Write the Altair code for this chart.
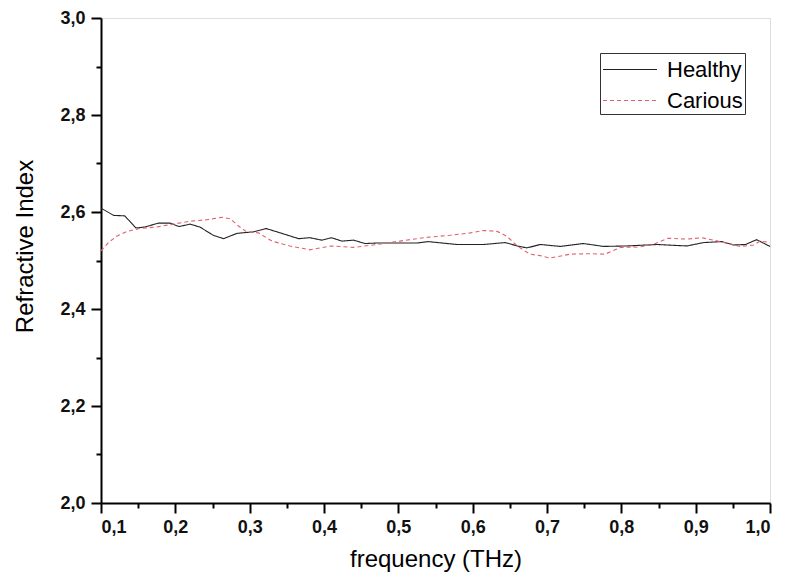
import altair as alt
import pandas as pd

healthy_f = [0.100, 0.117, 0.132, 0.147, 0.159, 0.177, 0.193, 0.205, 0.220, 0.233, 0.251, 0.265,
             0.283, 0.305, 0.322, 0.341, 0.366, 0.381, 0.397, 0.410, 0.424, 0.440, 0.455, 0.471,
             0.525, 0.540, 0.579, 0.615, 0.644, 0.660, 0.673, 0.691, 0.718, 0.749, 0.776, 0.808,
             0.848, 0.888, 0.911, 0.935, 0.951, 0.967, 0.982, 1.000]
healthy_n = [2.608, 2.593, 2.592, 2.567, 2.569, 2.577, 2.577, 2.570, 2.575, 2.569, 2.552, 2.545,
             2.556, 2.559, 2.566, 2.557, 2.545, 2.547, 2.542, 2.547, 2.540, 2.542, 2.535, 2.536,
             2.536, 2.539, 2.533, 2.533, 2.537, 2.530, 2.526, 2.533, 2.529, 2.535, 2.529, 2.530,
             2.533, 2.530, 2.537, 2.539, 2.532, 2.533, 2.543, 2.529]

carious_f = [0.100, 0.110, 0.121, 0.135, 0.152, 0.175, 0.197, 0.220, 0.242, 0.262, 0.274, 0.285,
             0.296, 0.312, 0.330, 0.354, 0.381, 0.410, 0.440, 0.471, 0.502, 0.534, 0.570, 0.597,
             0.615, 0.633, 0.646, 0.660, 0.677, 0.691, 0.704, 0.731, 0.758, 0.778, 0.799, 0.825,
             0.843, 0.863, 0.888, 0.908, 0.933, 0.960, 0.978, 0.987, 1.000]
carious_n = [2.520, 2.537, 2.550, 2.560, 2.566, 2.569, 2.575, 2.581, 2.584, 2.589, 2.586, 2.571,
             2.559, 2.557, 2.540, 2.530, 2.522, 2.530, 2.527, 2.533, 2.540, 2.547, 2.552, 2.557,
             2.562, 2.560, 2.550, 2.530, 2.513, 2.510, 2.505, 2.513, 2.514, 2.513, 2.527, 2.528,
             2.533, 2.546, 2.544, 2.547, 2.539, 2.529, 2.532, 2.540, 2.537]

series_names = ["Healthy", "Carious"]
x_major = [0.1, 0.2, 0.3, 0.4, 0.5, 0.6, 0.7, 0.8, 0.9, 1.0]
x_minor = [0.15, 0.25, 0.35, 0.45, 0.55, 0.65, 0.75, 0.85, 0.95]
y_major = [2.0, 2.2, 2.4, 2.6, 2.8, 3.0]
y_minor = [2.1, 2.3, 2.5, 2.7, 2.9]

df = pd.concat([
    pd.DataFrame({"f": healthy_f, "n": healthy_n, "s": "Healthy"}),
    pd.DataFrame({"f": carious_f, "n": carious_n, "s": "Carious"}),
], ignore_index=True)

FONT = "Liberation Sans"
fmt = "replace(format(datum.value, '.1f'), '.', ',')"

xscale = alt.Scale(domain=[0.1, 1.0], nice=False, zero=False)
yscale = alt.Scale(domain=[2.0, 3.0], nice=False, zero=False)

major_common = dict(grid=False, domainColor="black", domainWidth=2, tickColor="black",
                    tickWidth=2, tickSize=10, labelFont=FONT, labelFontSize=18,
                    labelFontWeight="bold", labelColor="#111111", labelExpr=fmt,
                    titleFont=FONT, titleFontSize=24, titleFontWeight="normal", titleColor="black")

lines = alt.Chart(df).mark_line(strokeWidth=1.1).encode(
    x=alt.X("f:Q", scale=xscale,
            axis=alt.Axis(values=x_major, title="frequency (THz)", orient="bottom",
                          labelPadding=5, titlePadding=11, **major_common)),
    y=alt.Y("n:Q", scale=yscale,
            axis=alt.Axis(values=y_major, title="Refractive Index", orient="left",
                          labelPadding=6, titlePadding=22, titleY=228, **major_common)),
    color=alt.Color("s:N", scale=alt.Scale(domain=series_names, range=["#222222", "#e06070"]),
                    legend=alt.Legend(title=None, orient="none", legendX=499, legendY=35,
                                      symbolType="M-1,0L3,0", symbolSize=729, symbolStrokeWidth=1.2,
                                      labelFont=FONT, labelFontSize=22, labelColor="black",
                                      labelOffset=36, strokeColor="#333333", padding=2,
                                      rowPadding=5)),
    strokeDash=alt.StrokeDash("s:N", scale=alt.Scale(domain=series_names, range=[[1, 0], [4, 3]]),
                              legend=None),
)

minor = alt.Chart(df).mark_line(opacity=0).encode(
    x=alt.X("f:Q", scale=xscale,
            axis=alt.Axis(values=x_minor, labels=False, domain=False, grid=False, title=None,
                          tickColor="black", tickWidth=2, tickSize=5, orient="bottom")),
    y=alt.Y("n:Q", scale=yscale,
            axis=alt.Axis(values=y_minor, labels=False, domain=False, grid=False, title=None,
                          tickColor="black", tickWidth=2, tickSize=5, orient="left")),
)

chart = alt.layer(lines, minor).resolve_axis(x="independent", y="independent").properties(
    width=669, height=485,
    autosize=alt.AutoSizeParams(type="none"),
    padding={"left": 93, "top": 10, "right": 7, "bottom": 69},
).configure_view(stroke="black", strokeWidth=2).configure(background="white")

chart.save("out.html", embed_options={"renderer": "svg", "actions": False})
